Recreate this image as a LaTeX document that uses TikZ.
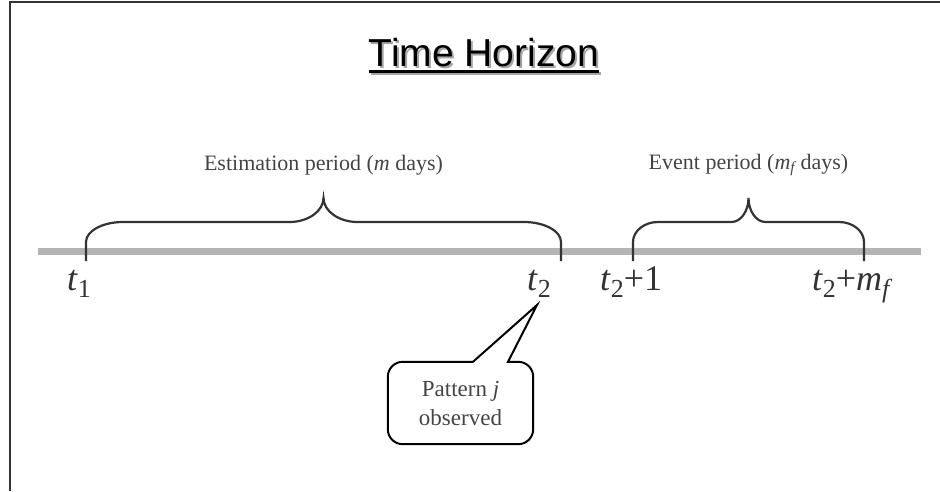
\documentclass[tikz,border=0pt]{standalone}
\usepackage{fontspec}
\usepackage{tikz}
\usetikzlibrary{calc}
\setmainfont{Liberation Serif}
\newfontfamily\headfont{Liberation Sans}

\definecolor{ink}{HTML}{333333}
\definecolor{axisgray}{HTML}{B4B4B4}
\definecolor{labelgray}{HTML}{444444}

% lowered index for the time labels
\newcommand{\lowidx}[1]{\raisebox{-0.2em}{\fontsize{26}{26}\selectfont #1}}

% curly brace over the time axis: left x, right x, corner width, tip half width
\newcommand{\periodbrace}[4]{%
  \draw[brace line] (#1,261) -- (#1,242)
    .. controls (#1,231) and ({#1+0.45*#3},222) .. ({#1+#3},222)
    -- ({(#1+#2)/2-#4},222)
    .. controls ({(#1+#2)/2-0.45*#4},222) and ({(#1+#2)/2},211) .. ({(#1+#2)/2},198)
    .. controls ({(#1+#2)/2},211) and ({(#1+#2)/2+0.45*#4},222) .. ({(#1+#2)/2+#4},222)
    -- ({#2-#3},222)
    .. controls ({#2-0.45*#3},222) and (#2,231) .. (#2,242) -- (#2,261);}

\tikzset{
  brace line/.style={draw=ink, line width=2.2pt},
  tick label/.style={anchor=base west, inner sep=0pt, text=ink, font=\fontsize{36}{40}\selectfont},
  period label/.style={inner sep=0pt, text=labelgray, font=\fontsize{22}{26}\selectfont},
  heading/.style={anchor=base, inner sep=0pt, font=\headfont\fontsize{39}{44}\selectfont}
}

\begin{document}
\begin{tikzpicture}[x=1pt,y=-1pt]
  \useasboundingbox (0,0) rectangle (940,491);
  % frame
  \draw[ink, line width=2.5pt] (10,491) -- (10,2) -- (940,2);

  % heading with drop shadow
  \node[heading, text=black!35] (shadow) at (486,68) {Time Horizon};
  \draw[black!35, line width=2.5pt] ($(shadow.base west)+(0,5.5)$) -- ($(shadow.base east)+(0,5.5)$);
  \node[heading] (title) at (484,66) {Time Horizon};
  \draw[line width=2.5pt] ($(title.base west)+(0,5.5)$) -- ($(title.base east)+(0,5.5)$);

  % time axis
  \draw[axisgray, line width=7pt] (38,251) -- (921,251);

  \periodbrace{86}{561}{37}{34}
  \periodbrace{633}{864}{25}{17}

  \node[period label] (estim) at (323.5,165) {Estimation period (\textit{m} days)};
  \node[period label] (event) at (748.5,165) {Event period (\textit{m}\textsubscript{\textit{f}}\,days)};

  \node[tick label] (t1) at (67,290) {\textit{t}\lowidx{1}};
  \node[tick label] (t2) at (527,290) {\textit{t}\lowidx{2}};
  \node[tick label] (t2a) at (600,290) {\textit{t}\lowidx{2}+1};
  \node[tick label] (t2b) at (812,290) {\textit{t}\lowidx{2}+\textit{m}\lowidx{\textit{f}}};

  % callout
  \node[minimum width=145pt, minimum height=82pt, inner sep=0pt, align=center,
        text=labelgray, font=\fontsize{23}{29}\selectfont] (pattern) at (460.5,403)
        {Pattern \textit{j}\\observed};
  \coordinate (tip) at (537,305);
  \draw[line width=2pt] ($(pattern.north)+(12.5,0)$) [rounded corners=15pt]
    -- (pattern.north west) -- (pattern.south west) -- (pattern.south east)
    -- (pattern.north east) [sharp corners] -- ($(pattern.north)+(47.5,0)$)
    -- (tip) -- cycle;
\end{tikzpicture}
\end{document}
